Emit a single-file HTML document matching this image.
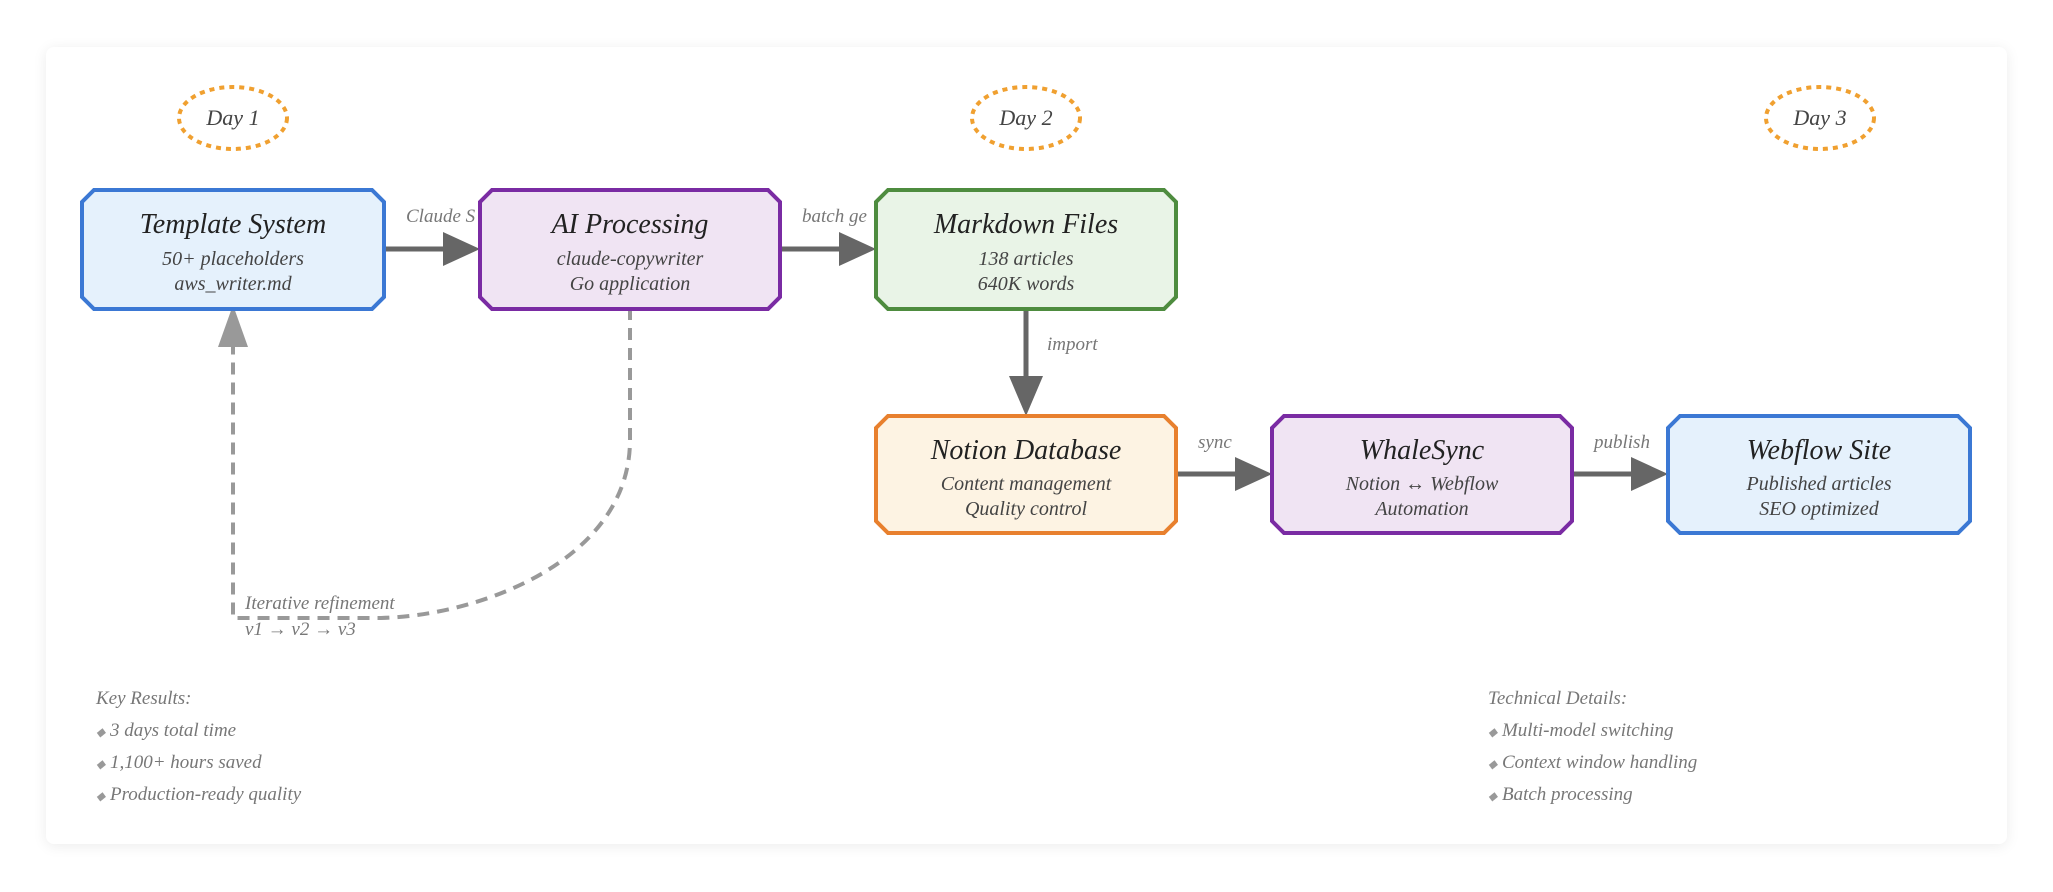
<!DOCTYPE html>
<html><head><meta charset="utf-8"><style>
html,body{margin:0;padding:0;background:#fff;}
body{width:2053px;height:892px;overflow:hidden;position:relative;}
.card{position:absolute;left:46px;top:47px;width:1961px;height:797px;background:#fff;border-radius:8px;box-shadow:0 2px 14px rgba(0,0,0,0.08);}
svg{position:absolute;left:0;top:0;}
text{font-family:"Liberation Serif",serif;font-style:italic;}
</style></head><body>
<div class="card"></div>
<svg width="2053" height="892" viewBox="0 0 2053 892">
<g fill="none" stroke="#f0a030" stroke-width="4" stroke-dasharray="5 5">
<ellipse cx="233" cy="118" rx="54" ry="31"/>
<ellipse cx="1026" cy="118" rx="54" ry="31"/>
<ellipse cx="1820" cy="118" rx="54" ry="31"/>
</g>
<g font-size="22" fill="#444" text-anchor="middle">
<text x="233" y="125">Day 1</text>
<text x="1026" y="125">Day 2</text>
<text x="1820" y="125">Day 3</text>
</g>
<path d="M630 308 V440 C630 560 480 616 380 618 H233 V347" fill="none" stroke="#999" stroke-width="4" stroke-dasharray="12 8"/>
<polygon points="233,305 218,347 248,347" fill="#999"/>
<g stroke="#666" stroke-width="5">
<line x1="384" y1="249" x2="445" y2="249"/>
<line x1="780" y1="249" x2="842" y2="249"/>
<line x1="1026" y1="309" x2="1026" y2="380"/>
<line x1="1176" y1="474" x2="1238" y2="474"/>
<line x1="1572" y1="474" x2="1634" y2="474"/>
</g>
<g fill="#666">
<polygon points="443,232 480,249 443,266"/>
<polygon points="839,232 876,249 839,266"/>
<polygon points="1009,376 1043,376 1026,416"/>
<polygon points="1235,457 1272,474 1235,491"/>
<polygon points="1631,457 1668,474 1631,491"/>
</g>
<g font-size="19" fill="#777">
<text x="406" y="222">Claude S</text>
<text x="802" y="222">batch ge</text>
<text x="1047" y="350">import</text>
<text x="1198" y="448">sync</text>
<text x="1594" y="448">publish</text>
<text x="245" y="609">Iterative refinement</text>
<text x="245" y="635">v1 → v2 → v3</text>
</g>
<g stroke-width="4">
<polygon points="94,190 372,190 384,202 384,297 372,309 94,309 82,297 82,202" fill="#e5f1fc" stroke="#3b78d4"/>
<polygon points="492,190 768,190 780,202 780,297 768,309 492,309 480,297 480,202" fill="#f0e4f3" stroke="#7a2ba3"/>
<polygon points="888,190 1164,190 1176,202 1176,297 1164,309 888,309 876,297 876,202" fill="#e9f4e7" stroke="#4e8c3f"/>
<polygon points="888,416 1164,416 1176,428 1176,521 1164,533 888,533 876,521 876,428" fill="#fdf3e3" stroke="#e8802e"/>
<polygon points="1284,416 1560,416 1572,428 1572,521 1560,533 1284,533 1272,521 1272,428" fill="#f0e4f3" stroke="#7a2ba3"/>
<polygon points="1680,416 1958,416 1970,428 1970,521 1958,533 1680,533 1668,521 1668,428" fill="#e5f1fc" stroke="#3b78d4"/>
</g>
<g text-anchor="middle">
<g font-size="28" fill="#222">
<text x="233" y="233">Template System</text>
<text x="630" y="233">AI Processing</text>
<text x="1026" y="233">Markdown Files</text>
<text x="1026" y="459">Notion Database</text>
<text x="1422" y="459">WhaleSync</text>
<text x="1819" y="459">Webflow Site</text>
</g>
<g font-size="20" fill="#444">
<text x="233" y="265">50+ placeholders</text>
<text x="233" y="290">aws_writer.md</text>
<text x="630" y="265">claude-copywriter</text>
<text x="630" y="290">Go application</text>
<text x="1026" y="265">138 articles</text>
<text x="1026" y="290">640K words</text>
<text x="1026" y="490">Content management</text>
<text x="1026" y="515">Quality control</text>
<text x="1422" y="490">Notion ↔ Webflow</text>
<text x="1422" y="515">Automation</text>
<text x="1819" y="490">Published articles</text>
<text x="1819" y="515">SEO optimized</text>
</g>
</g>
<g font-size="19" fill="#777">
<text x="96" y="704">Key Results:</text>
<text x="96" y="736"><tspan font-size="12" fill="#999">◆</tspan> 3 days total time</text>
<text x="96" y="768"><tspan font-size="12" fill="#999">◆</tspan> 1,100+ hours saved</text>
<text x="96" y="800"><tspan font-size="12" fill="#999">◆</tspan> Production-ready quality</text>
<text x="1488" y="704">Technical Details:</text>
<text x="1488" y="736"><tspan font-size="12" fill="#999">◆</tspan> Multi-model switching</text>
<text x="1488" y="768"><tspan font-size="12" fill="#999">◆</tspan> Context window handling</text>
<text x="1488" y="800"><tspan font-size="12" fill="#999">◆</tspan> Batch processing</text>
</g>
</svg>
</body></html>
